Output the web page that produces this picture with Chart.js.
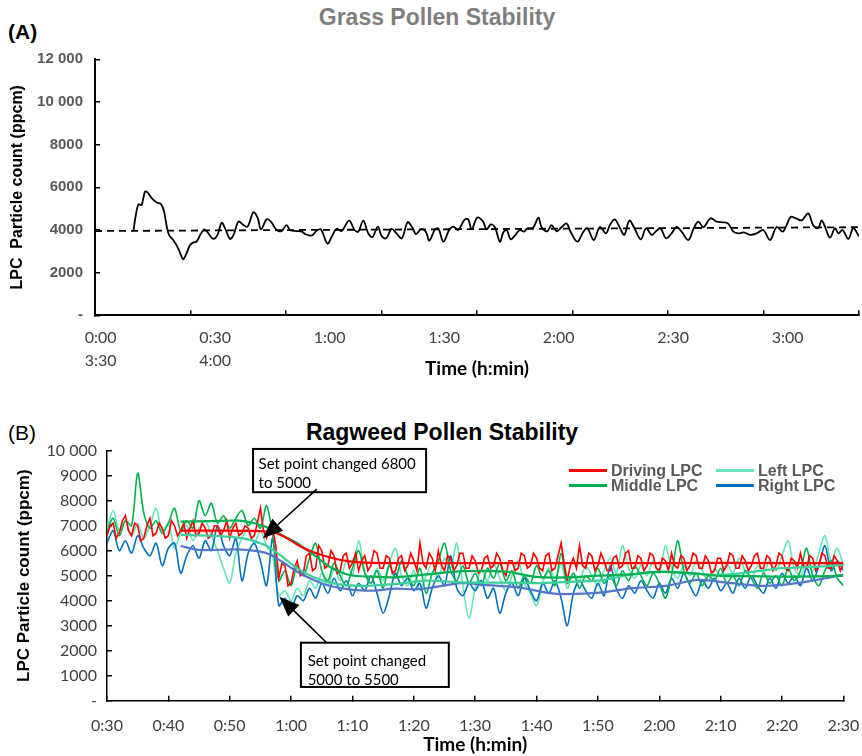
<!DOCTYPE html>
<html>
<head>
<meta charset="utf-8">
<script src="https://cdn.jsdelivr.net/npm/chart.js@4.4.1/dist/chart.umd.min.js"></script>
<style>
  html, body { margin: 0; padding: 0; background: #fff; overflow: hidden; }
  body { width: 862px; height: 756px; position: relative; font-family: 'Liberation Sans', Arial, sans-serif; }
  canvas { position: absolute; left: 0; }
  #grassChart { top: 0; }
  #ragweedChart { top: 400px; }
  .panel { position: absolute; left: 8px; font-size: 21px; line-height: 24px; }
  .title { position: absolute; font-weight: bold; font-size: 23px; line-height: 26px; white-space: nowrap; transform: translateX(-50%); }
  #legend { position: absolute; left: 569px; top: 463px; display: grid; grid-template-columns: 147px auto;
            font: bold 16px 'Liberation Sans', Arial, sans-serif; color: #595959; line-height: 15px; }
  #legend .item { display: flex; align-items: center; white-space: nowrap; }
  #legend .swatch { width: 38px; height: 3px; margin-right: 4px; }
</style>
</head>
<body>
<div class="title" style="left:437px; top:4px; color:#7f7f7f;">Grass Pollen Stability</div>
<div class="panel" style="top:20px; font-weight:bold;">(A)</div>
<canvas id="grassChart" width="862" height="390"></canvas>

<div class="title" style="left:442px; top:419px; color:#000;">Ragweed Pollen Stability</div>
<div class="panel" style="top:421px;">(B)</div>
<canvas id="ragweedChart" width="880" height="356"></canvas>
<div id="legend"></div>

<script>
// ---- (A) grass pollen, minutes from start ----
const grassTime = [8.6, 9.2, 9.9, 10.7, 11.6, 12.3, 13.4, 14.7, 15.8, 16.6, 17.3, 17.9, 19.0, 20.3, 21.0, 21.6,
  22.5, 23.4, 24.3, 25.1, 26.3, 27.2, 28.2, 29.5, 30.6, 31.7, 32.7, 33.9, 34.8, 36.1, 37.4, 38.5, 40.0, 41.1,
  42.0, 43.5, 44.6, 46.1, 47.4, 48.7, 49.6, 51.3, 52.7, 53.7, 55.3, 56.6, 57.7, 59.4, 60.5, 61.8, 63.1, 65.1,
  66.5, 67.5, 68.8, 70.1, 71.2, 72.6, 73.6, 74.8, 76.2, 77.5, 78.9, 80.4, 81.5, 82.6, 83.9, 85.2, 86.1, 87.6,
  88.5, 89.8, 91.3, 92.4, 93.7, 95.3, 96.3, 97.2, 98.7, 100.2, 101.1, 102.2, 103.3, 104.6, 105.5, 106.4, 107.4,
  108.5, 109.8, 110.9, 111.8, 113.3, 114.7, 115.5, 117.0, 118.1, 119.5, 120.8, 122.1, 123.1, 124.9, 126.4,
  127.5, 129.2, 130.8, 132.4, 133.4, 134.7, 136.1, 137.2, 138.5, 139.7, 141.5, 142.9, 144.4, 145.5, 146.7,
  148.1, 149.6, 150.9, 152.2, 154.0, 155.4, 156.6, 157.9, 159.8, 161.4, 163.1, 164.4, 165.8, 167.1, 168.5,
  170.1, 171.9, 173.6, 175.4, 177.1, 178.7, 179.7, 180.8, 182.2, 183.7, 185.4, 186.7, 188.0, 188.9, 189.8,
  191.1, 192.4, 193.3, 194.4, 195.9, 197.2, 198.7];
const grassCount = [4000, 4700, 5200, 5170, 5800, 5750, 5480, 5290, 5220, 4860, 4160, 3770, 3530, 3140, 2830, 2625,
  2910, 3300, 3420, 3450, 3840, 4030, 3840, 3580, 3770, 4340, 4030, 3580, 3770, 4390, 4230, 4160, 4830, 4580,
  4030, 4500, 4390, 4000, 3950, 4230, 4000, 3950, 3920, 3800, 3740, 3970, 4030, 3360, 3670, 4060, 3950, 4440,
  4000, 3920, 4440, 3840, 3670, 4160, 3720, 3610, 4050, 3840, 3610, 4360, 4160, 3810, 4030, 3920, 3500, 4030,
  4060, 3450, 4000, 4160, 4000, 4470, 4500, 4030, 4580, 4390, 4030, 4260, 4125, 3450, 3890, 4000, 3560,
  3730, 4000, 3920, 4080, 4110, 4575, 4140, 3940, 4220, 3940, 4140, 4300, 3920, 3450, 3890,
  4080, 3530, 4140, 3840, 4220, 4500, 4080, 3770, 4440, 4140, 3560, 4080, 3770, 3940, 4080,
  3610, 3840, 4140, 3920, 3530, 4080, 4390, 4125, 4545, 4390, 4360, 4300, 3920, 3840, 3890,
  3770, 3840, 4000, 3530, 4140, 3920, 4220, 4610, 4545, 4450, 4780, 4220, 4080, 4450, 4140,
  3640, 4080, 3840, 4000, 3580, 4080, 3700];
const grassTrendTime = [-1.5, 198.7];
const grassTrendCount = [3950, 4130];
const grassTickTimes = [0, 30, 60, 90, 120, 150, 180];
const grassTickLabels = [['0:00', '3:30'], ['0:30', '4:00'], '1:00', '1:30', '2:00', '2:30', '3:00'];

// ---- (B) ragweed pollen, readings from 0:30 ----
const ragweedStart = 30;
const drivingStep = 0.5;   // driving LPC logged every half minute
const sensorStep = 1;      // other LPCs every minute
const drivingLPC = [6600, 7000, 7100, 6500, 6700, 7200, 7400, 6800, 6600, 7100,
  7000, 6400, 6500, 7000, 7300, 6600, 6700, 7100, 6900, 6500,
  6600, 7200, 7000, 6600, 6800, 7100, 6500, 6900, 7200, 6600,
  6700, 7100, 6900, 6500, 6600, 7000, 7000, 6600, 6800, 7200,
  6500, 6900, 7100, 6600, 6700, 7000, 6900, 6500, 6600, 7100,
  7700, 6800, 6500, 7000, 6900, 6200, 4900, 5500, 5400, 4600,
  4700, 5300, 5600, 5000, 5100, 5800, 5900, 5200, 5300, 6200,
  6000, 5300, 5400, 6000, 5800, 5100, 5200, 5800, 5900, 5300,
  5500, 5900, 5200, 5600, 5800, 5200, 5400, 6000, 5900, 5300,
  5300, 5800, 5700, 5100, 5200, 5700, 5800, 5200, 5400, 5900,
  5600, 5200, 6300, 5500, 5300, 5900, 5700, 5200, 6000, 5400,
  5200, 5800, 5700, 5200, 5400, 5900, 5900, 5300, 5300, 5800,
  5600, 5100, 5200, 5700, 5800, 5300, 5400, 5900, 5700, 5200,
  5000, 5600, 5600, 5200, 5300, 5900, 5800, 5300, 5400, 5900,
  5700, 5300, 5200, 5800, 5900, 5200, 5300, 5800, 6300, 5500,
  4800, 5400, 5700, 5300, 6200, 5400, 5300, 5900, 5800, 5200,
  5400, 5900, 5600, 5200, 5200, 5700, 5800, 5300, 5400, 5900,
  6000, 5300, 5300, 5800, 5700, 5200, 5400, 5900, 5800, 5300,
  5200, 5700, 5600, 5200, 5900, 5400, 5300, 5800, 5700, 5200,
  5400, 5900, 5800, 5300, 5300, 5800, 5600, 5100, 5200, 5700,
  5700, 5200, 5400, 5900, 5800, 5300, 5300, 5800, 5600, 5200,
  5400, 5800, 5900, 5300, 5300, 5800, 5700, 5200, 5400, 5900,
  5800, 5300, 5200, 5700, 5600, 5300, 5900, 5400, 5300, 5800,
  5700, 5200, 5400, 5900, 5800, 5300, 5300, 5800, 5600, 5200,
  5500];
const middleLPC = [6800, 7300, 6600, 7200, 7000, 9100, 7500, 6900, 7200, 6700,
  7100, 7700, 6800, 7200, 6900, 8000, 7400, 7900, 7100, 7400,
  6900, 7300, 7600, 7000, 7300, 6900, 7800, 6600, 4800, 5200,
  4600, 5400, 5000, 5700, 6300, 5200, 4800, 5500, 5000, 4600,
  5300, 6000, 5100, 4700, 5200, 4500, 5400, 4900, 5600, 5000,
  4600, 5300, 4300, 5100, 5600, 6300, 5200, 4800, 5400, 4700,
  5100, 4600, 5300, 4900, 5500, 4800, 5200, 4500, 5000, 4700,
  5400, 4900, 5200, 4600, 5900, 4700, 5100, 4500, 5000, 4800,
  5300, 4700, 5000, 4600, 5200, 4800, 5400, 5000, 4600, 5100,
  4700, 4100, 5000, 6400, 5200, 4700, 5100, 4600, 5000, 4800,
  5300, 4700, 5000, 4600, 5200, 4900, 4500, 5100, 4700, 5000,
  4600, 5300, 4800, 5200, 6100, 5000, 4600, 5200, 5600, 4900,
  4600];
const leftLPC = [6900, 7600, 6800, 7200, 6600, 7100, 6500, 7000, 7700, 6800,
  7100, 6100, 6700, 7000, 6400, 6900, 7200, 6600, 6000, 5300,
  4700, 5900, 6500, 6900, 6300, 6800, 6200, 5800, 4200, 4400,
  4000, 4500, 4200, 4800, 4500, 5100, 4600, 5300, 4800, 5600,
  5000, 6400, 5200, 4700, 5300, 4800, 5500, 6100, 5000, 4600,
  5200, 4400, 5000, 5500, 4900, 5700, 5300, 6300, 4600, 3300,
  4500, 5200, 4800, 5500, 4900, 4400, 5000, 5600, 4700, 4300,
  3800, 4700, 5300, 4900, 5500, 4500, 5100, 4800, 5400, 5000,
  4600, 5200, 5700, 5100, 6200, 5300, 4900, 5400, 5000, 5600,
  5100, 6200, 5300, 4900, 5400, 5000, 5600, 5200, 4800, 5300,
  5000, 5500, 5100, 5700, 5200, 4900, 5400, 5100, 5600, 5200,
  5800, 6400, 5300, 5000, 5500, 5200, 5900, 6600, 5600, 6100,
  5400];
const rightLPC = [6300, 6800, 6000, 6400, 5900, 6600, 6100, 5800, 6300, 5400,
  6100, 6300, 5100, 5800, 6200, 5700, 6400, 6000, 7000, 6200,
  5800, 6500, 4800, 5900, 6300, 5600, 4600, 6500, 3800, 4100,
  3700, 4200, 4000, 4500, 4100, 4700, 4300, 4900, 4400, 4800,
  4200, 4700, 4400, 5000, 4300, 3500, 4200, 5100, 4600, 4900,
  4400, 4700, 3700, 4500, 5000, 4600, 5800, 4500, 4200, 4700,
  4400, 4800, 4100, 4500, 3500, 4300, 4700, 4200, 4900, 4400,
  4000, 4700, 4300, 4800, 4100, 3000, 4300, 4800, 4400, 4100,
  4700, 4200, 5400, 4500, 4100, 4600, 4300, 4800, 4400, 4100,
  4700, 4300, 4900, 4500, 5100, 4600, 4200, 4800, 4500, 4900,
  4400, 4700, 4300, 4900, 4500, 5000, 4600, 4300, 4900, 4500,
  5100, 4700, 5000, 4600, 5300, 4800, 5400, 6200, 5200, 5600,
  5200];

// smoothed traces
const drivingTrendTime = [42, 50, 55, 57, 59, 61, 63, 65, 67, 69.5, 72, 77, 90, 110, 130, 150];
const drivingTrend = [6800, 6800, 6780, 6750, 6550, 6250, 6000, 5830, 5690, 5570, 5520, 5500, 5500, 5500, 5510, 5500];
const middleTrendTime = [42, 47, 51.5, 55, 57.3, 59, 61, 63.7, 66.3, 69.5, 73.3, 77, 82, 88, 95, 100, 105,
  110, 115, 120, 125, 130, 135, 140, 145, 150];
const middleTrend = [7160, 7180, 7200, 7030, 6800, 6550, 6300, 5830, 5360, 5030, 4960, 4940, 5050, 5180, 5160,
  4950, 4930, 5000, 5050, 5150, 5100, 4990, 4980, 4960, 4970, 5000];
const leftTrendTime = [42, 47, 52, 55.7, 57.8, 61, 63.7, 67.4, 71.7, 77, 82, 88, 95, 100, 105, 110, 115, 120,
  125, 130, 135, 140, 145, 150];
const leftTrend = [6630, 6600, 6500, 6230, 5900, 5300, 4940, 4670, 4590, 4670, 4800, 4730, 4720, 4700, 4750,
  4800, 5030, 5160, 5100, 5030, 5150, 5300, 5350, 5430];
const rightTrendTime = [42, 45, 51.4, 55, 56.7, 58.9, 61, 63.7, 66.4, 70.1, 73.3, 77, 80.8, 87.8, 91.5, 96.8,
  102.2, 104.8, 110.3, 115.6, 121, 126.3, 131.7, 137, 142.4, 150];
const rightTrend = [6190, 6030, 6050, 5960, 5830, 5500, 5160, 4830, 4590, 4430, 4400, 4480, 4460, 4700, 4630,
  4540, 4300, 4260, 4320, 4500, 4590, 4830, 4700, 4590, 4700, 5030];

const ragweedTickLabels = ['0:30', '0:40', '0:50', '1:00', '1:10', '1:20', '1:30', '1:40', '1:50', '2:00',
  '2:10', '2:20', '2:30'];

// set-point notes in data units (minutes, ppcm)
const setPointNotes = [
  { box: [53.8, 10070, 82.0, 8340], textAt: [54.7, 9470], text: ['Set point changed 6800', 'to 5000'],
    arrow: [[64.2, 8460], [55.4, 6500]] },
  { box: [61.6, 2320, 85.7, 550], textAt: [62.7, 1590], text: ['Set point changed', '5000 to 5500'],
    arrow: [[65.8, 2320], [58.1, 4160]] }
];

const pairs = (xs, ys) => xs.map((x, i) => ({ x: x, y: ys[i] }));
const sampled = (ys, step) => ys.map((y, i) => ({ x: ragweedStart + i * step, y: y }));
const spaced = v => v === 0 ? '-' : (v >= 10000 ? String(v).replace(/(\d{3})$/, ' $1') : String(v));

Chart.defaults.font.family = "'Liberation Sans', Arial, sans-serif";

new Chart(document.getElementById('grassChart'), {
  type: 'line',
  data: {
    datasets: [
      { label: 'Grass pollen', data: pairs(grassTime, grassCount), borderColor: '#000', borderWidth: 1.8,
        pointRadius: 0, tension: 0.35 },
      { label: 'Trend', data: pairs(grassTrendTime, grassTrendCount), borderColor: '#000', borderWidth: 1.8,
        borderDash: [7, 5], pointRadius: 0 }
    ]
  },
  options: {
    responsive: false, animation: false, devicePixelRatio: 1,
    layout: { padding: { left: 8, top: 59.3, right: 3, bottom: 0 } },
    plugins: { legend: { display: false }, tooltip: { enabled: false } },
    scales: {
      x: {
        type: 'linear', position: 'bottom', weight: 1, min: -1.5, max: 198.7,
        afterFit: s => { s.height = 74.7; },
        afterBuildTicks: s => { s.ticks = grassTickTimes.map(v => ({ value: v })); },
        grid: { display: false, drawTicks: false },
        border: { display: false },
        ticks: { autoSkip: false, maxRotation: 0, padding: 10.5, color: '#404040',
                 font: { family: 'Lato', size: 16, lineHeight: 1.45 },
                 callback: (v, i) => grassTickLabels[i] },
        title: { display: true, text: 'Time (h:min)', color: '#000',
                 font: { family: 'Lato', size: 19, weight: 'bold', lineHeight: 1.2 },
                 padding: { top: 0, bottom: 9.4 } }
      },
      xt: {
        type: 'linear', position: 'bottom', weight: 0, min: 0, max: 8,
        afterFit: s => { s.height = 0; },
        ticks: { display: false, stepSize: 1 },
        grid: { drawOnChartArea: false, tickLength: -5, color: '#000', lineWidth: 1.5 },
        border: { color: '#000', width: 2 }
      },
      y: {
        min: 0, max: 12000,
        afterFit: s => { s.width = 87; },
        ticks: { stepSize: 2000, padding: 17, color: '#595959',
                 font: { size: 15, weight: 'bold' }, callback: spaced },
        grid: { drawOnChartArea: false, tickLength: -5, color: '#000', lineWidth: 1.5 },
        border: { color: '#000', width: 2 },
        title: { display: true, text: 'LPC  Particle count (ppcm)', color: '#000',
                 font: { size: 16, weight: 'bold', lineHeight: 1.2 }, padding: { top: 0, bottom: 0 } }
      }
    }
  }
});

const notesPlugin = {
  id: 'setPointNotes',
  afterDatasetsDraw(chart) {
    const { ctx, scales: { x, y } } = chart;
    ctx.save();
    setPointNotes.forEach(n => {
      const left = x.getPixelForValue(n.box[0]), top = y.getPixelForValue(n.box[1]);
      const right = x.getPixelForValue(n.box[2]), bottom = y.getPixelForValue(n.box[3]);
      ctx.fillStyle = '#fff';
      ctx.fillRect(left, top, right - left, bottom - top);
      ctx.strokeStyle = '#000';
      ctx.lineWidth = 2;
      ctx.strokeRect(left, top, right - left, bottom - top);

      ctx.fillStyle = '#000';
      ctx.font = "15px Lato";
      ctx.textBaseline = 'middle';
      const tx = x.getPixelForValue(n.textAt[0]);
      let ty = y.getPixelForValue(n.textAt[1]);
      n.text.forEach(line => { ctx.fillText(line, tx, ty); ty += 19.3; });

      // arrow with a filled head
      const x1 = x.getPixelForValue(n.arrow[0][0]), y1 = y.getPixelForValue(n.arrow[0][1]);
      const x2 = x.getPixelForValue(n.arrow[1][0]), y2 = y.getPixelForValue(n.arrow[1][1]);
      const ang = Math.atan2(y2 - y1, x2 - x1);
      const headLen = 20, headW = 8;
      const bx = x2 - Math.cos(ang) * headLen, by = y2 - Math.sin(ang) * headLen;
      ctx.lineWidth = 1.6;
      ctx.beginPath();
      ctx.moveTo(x1, y1);
      ctx.lineTo(bx, by);
      ctx.stroke();
      ctx.beginPath();
      ctx.moveTo(x2, y2);
      ctx.lineTo(bx + Math.sin(ang) * headW, by - Math.cos(ang) * headW);
      ctx.lineTo(bx - Math.sin(ang) * headW, by + Math.cos(ang) * headW);
      ctx.closePath();
      ctx.fill();
    });
    ctx.restore();
  }
};

const ragweedSeries = [
  { label: 'Driving LPC', color: '#ff0000' },
  { label: 'Left LPC', color: '#66e6b8' },
  { label: 'Middle LPC', color: '#00b050' },
  { label: 'Right LPC', color: '#0070c0' }
];
const line = (label, data, color, width, tension) => ({ label, data, borderColor: color, borderWidth: width,
  pointRadius: 0, tension: tension || 0 });

// first dataset is drawn on top
new Chart(document.getElementById('ragweedChart'), {
  type: 'line',
  data: {
    datasets: [
      line('Driving trend', pairs(drivingTrendTime, drivingTrend), '#ff0000', 2.2, 0.3),
      line('Middle trend', pairs(middleTrendTime, middleTrend), '#00b050', 2.2, 0.3),
      line('Left trend', pairs(leftTrendTime, leftTrend), '#3ccf9c', 2.2, 0.3),
      line('Right trend', pairs(rightTrendTime, rightTrend), '#5475c8', 2.2, 0.3),
      line('Driving LPC', sampled(drivingLPC, drivingStep), '#ff0000', 1.6),
      line('Middle LPC', sampled(middleLPC, sensorStep), '#00b050', 1.6, 0.3),
      line('Right LPC', sampled(rightLPC, sensorStep), '#0070c0', 1.6, 0.3),
      line('Left LPC', sampled(leftLPC, sensorStep), '#66e6b8', 1.6, 0.3)
    ]
  },
  options: {
    responsive: false, animation: false, devicePixelRatio: 1,
    layout: { padding: { left: 14, top: 50.7, right: 26, bottom: 0 } },
    plugins: { legend: { display: false }, tooltip: { enabled: false } },
    scales: {
      x: {
        type: 'linear', min: 30, max: 150,
        afterFit: s => { s.height = 55.3; },
        ticks: { stepSize: 10, autoSkip: false, maxRotation: 0, padding: 20.7, color: '#404040',
                 font: { family: 'Lato', size: 16, lineHeight: 1.2 },
                 callback: (v, i) => ragweedTickLabels[i] },
        grid: { drawOnChartArea: false, tickLength: -5, color: '#000', lineWidth: 1.5 },
        border: { color: '#000', width: 1.5 },
        title: { display: true, text: 'Time (h:min)', color: '#000',
                 font: { family: 'Lato', size: 19, weight: 'bold', lineHeight: 1.2 },
                 padding: { top: 0, bottom: 0 } }
      },
      y: {
        min: 0, max: 10000,
        afterFit: s => { s.width = 93; },
        ticks: { stepSize: 1000, padding: 15, color: '#404040',
                 font: { family: 'Lato', size: 16 }, callback: spaced },
        grid: { drawOnChartArea: false, tickLength: -5, color: '#000', lineWidth: 1.5 },
        border: { color: '#000', width: 1.5 },
        title: { display: true, text: 'LPC Particle count (ppcm)', color: '#000',
                 font: { size: 17, weight: 'bold', lineHeight: 1.2 }, padding: { top: 0, bottom: 0 } }
      }
    }
  },
  plugins: [notesPlugin]
});

document.getElementById('legend').innerHTML = ragweedSeries.map(s => `
  <div class="item"><span class="swatch" style="background:${s.color}"></span>${s.label}</div>
`).join('');
</script>
</body>
</html>
